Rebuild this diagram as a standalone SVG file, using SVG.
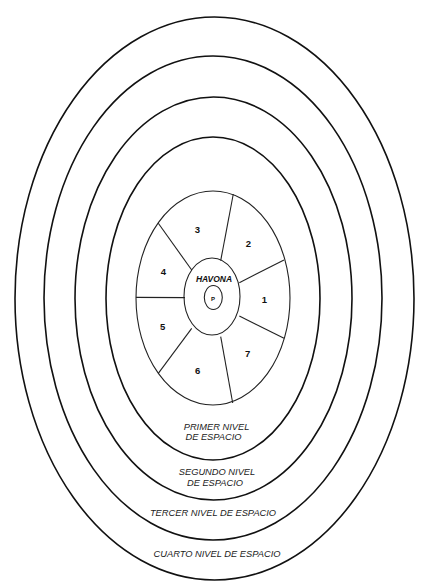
<svg xmlns="http://www.w3.org/2000/svg" width="425" height="587" viewBox="0 0 425 587">
<style>
.ring{fill:none;stroke:#111;stroke-width:1.6}
.thin{fill:none;stroke:#222;stroke-width:1.1}
.num{font-family:"Liberation Sans",Arial,sans-serif;font-weight:bold;font-size:9.5px;fill:#111;text-anchor:middle}
.lbl{font-family:"Liberation Sans",Arial,sans-serif;font-style:italic;font-size:9.3px;fill:#222;text-anchor:middle}
</style>
<rect width="425" height="587" fill="#fff"/>
<g id="cuarto-nivel"><ellipse class="ring" cx="214.5" cy="298.5" rx="199.5" ry="281.5"/><text class="lbl" x="217" y="557">CUARTO NIVEL DE ESPACIO</text></g>
<g id="tercer-nivel"><ellipse class="ring" cx="213" cy="298" rx="169" ry="242"/><text class="lbl" x="213" y="515.5">TERCER NIVEL DE ESPACIO</text></g>
<g id="segundo-nivel"><ellipse class="ring" cx="213.5" cy="298.5" rx="138.5" ry="201.5"/><text class="lbl" x="217" y="475">SEGUNDO NIVEL</text><text class="lbl" x="215" y="485.5">DE ESPACIO</text></g>
<g id="primer-nivel"><ellipse class="ring" cx="213" cy="298.5" rx="107" ry="161.5"/><text class="lbl" x="216.5" y="429.5">PRIMER NIVEL</text><text class="lbl" x="213.5" y="440">DE ESPACIO</text></g>
<g id="superuniversos"><ellipse class="thin" cx="213" cy="298" rx="77" ry="107"/></g>
<g id="connectors">
<line class="thin" x1="220.7" y1="260.7" x2="233.3" y2="194"/>
<line class="thin" x1="239.3" y1="282.7" x2="284" y2="260"/>
<line class="thin" x1="239.3" y1="316" x2="284" y2="338.3"/>
<line class="thin" x1="220.7" y1="336.7" x2="232.7" y2="403"/>
<line class="thin" x1="191.7" y1="328.3" x2="158.3" y2="373.3"/>
<line class="thin" x1="185" y1="297.6" x2="136" y2="297.4"/>
<line class="thin" x1="191.7" y1="270" x2="158.3" y2="223.3"/>
</g>
<g id="sector-1"><text class="num" x="264.3" y="302.5">1</text></g>
<g id="sector-2"><text class="num" x="248.3" y="246.8">2</text></g>
<g id="sector-3"><text class="num" x="197.3" y="232.8">3</text></g>
<g id="sector-4"><text class="num" x="163.3" y="274.5">4</text></g>
<g id="sector-5"><text class="num" x="162.7" y="330.2">5</text></g>
<g id="sector-6"><text class="num" x="197.7" y="373.5">6</text></g>
<g id="sector-7"><text class="num" x="247.7" y="356.8">7</text></g>
<g id="havona"><ellipse class="thin" cx="212" cy="296.5" rx="28" ry="38.5" fill="#fff"/><text class="num" style="font-style:italic;font-size:8.5px" x="214" y="282">HAVONA</text></g>
<g id="paraiso"><ellipse class="thin" cx="213.3" cy="297.5" rx="9" ry="12"/><text class="num" style="font-size:6px" x="213" y="300.5">P</text></g>
</svg>
